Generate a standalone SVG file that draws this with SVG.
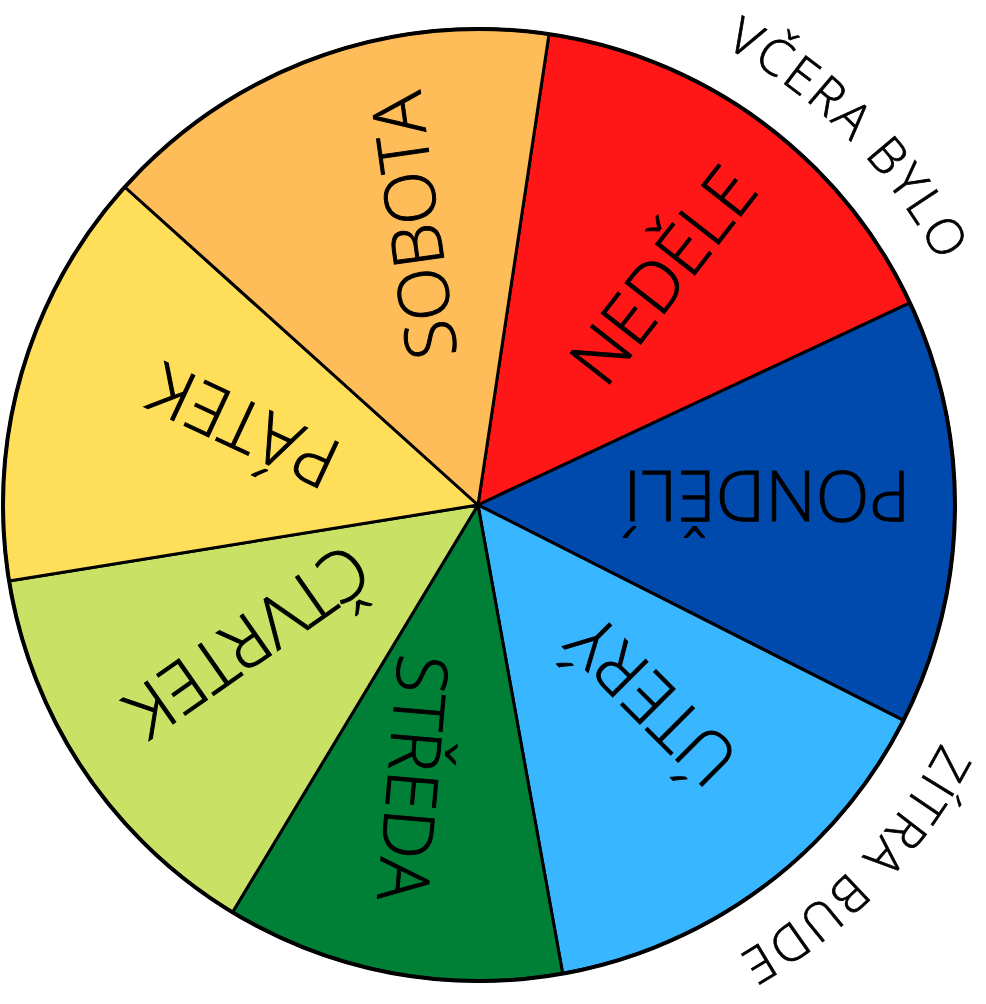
<svg xmlns="http://www.w3.org/2000/svg" width="986" height="1004" viewBox="0 0 986 1004">
<style>
.sec{stroke:#000;stroke-width:3;stroke-linejoin:round}
.lbl{font-family:"Open Sans","Liberation Sans",sans-serif;font-weight:300;font-size:70px;fill:#000;stroke:#000;stroke-width:1;text-anchor:middle}
.outer{font-family:"Open Sans","Liberation Sans",sans-serif;font-weight:300;font-size:50px;letter-spacing:3px;fill:#000;stroke:#000;stroke-width:0.8;text-anchor:middle}
</style>
<defs>
<path id="arcTop" d="M183.0,77.5 A520,520 0 0 1 903.4,805.5"/>
<path id="arcBot" d="M898.6,197.9 A520,520 0 0 1 189.7,937.1"/>
</defs>
<rect width="986" height="1004" fill="#fff"/>
<g id="nedele"><path class="sec" fill="#FF1616" d="M478,505 L549.0,34.2 A476,476 0 0 1 910.0,302.9 Z"/>
<text class="lbl" transform="translate(663,275) rotate(-52)" y="25">NEDĚLE</text></g>
<g id="pondeli"><path class="sec" fill="#004AAD" d="M478,505 L910.0,302.9 A476,476 0 0 1 903.5,720.3 Z"/>
<text class="lbl" transform="translate(767,496) rotate(180)" y="25">PONDĚLÍ</text></g>
<g id="utery"><path class="sec" fill="#38B6FF" d="M478,505 L903.5,720.3 A476,476 0 0 1 562.7,973.6 Z"/>
<text class="lbl" transform="translate(652,701) rotate(225)" y="25">ÚTERÝ</text></g>
<g id="streda"><path class="sec" fill="#008037" d="M478,505 L562.7,973.6 A476,476 0 0 1 232.5,912.2 Z"/>
<text class="lbl" transform="translate(413,778) rotate(95)" y="25">STŘEDA</text></g>
<g id="ctvrtek"><path class="sec" fill="#C9E265" d="M478,505 L232.5,912.2 A476,476 0 0 1 9.1,581.0 Z"/>
<text class="lbl" transform="translate(248,641) rotate(145)" y="25">ČTVRTEK</text></g>
<g id="patek"><path class="sec" fill="#FFDE59" d="M478,505 L9.1,581.0 A476,476 0 0 1 124.8,187.0 Z"/>
<text class="lbl" transform="translate(244,426) rotate(205)" y="25">PÁTEK</text></g>
<g id="sobota"><path class="sec" fill="#FFBD59" d="M478,505 L124.8,187.0 A476,476 0 0 1 549.0,34.2 Z"/>
<text class="lbl" transform="translate(414,226) rotate(-98)" y="25">SOBOTA</text></g>
<g id="connectors"><circle cx="479" cy="505" r="476" fill="none" stroke="#000" stroke-width="4"/></g>
<g id="vcera"><text class="outer"><textPath href="#arcTop" startOffset="50%">VČERA BYLO</textPath></text></g>
<g id="zitra"><text class="outer"><textPath href="#arcBot" startOffset="50%">ZÍTRA BUDE</textPath></text></g>
</svg>
